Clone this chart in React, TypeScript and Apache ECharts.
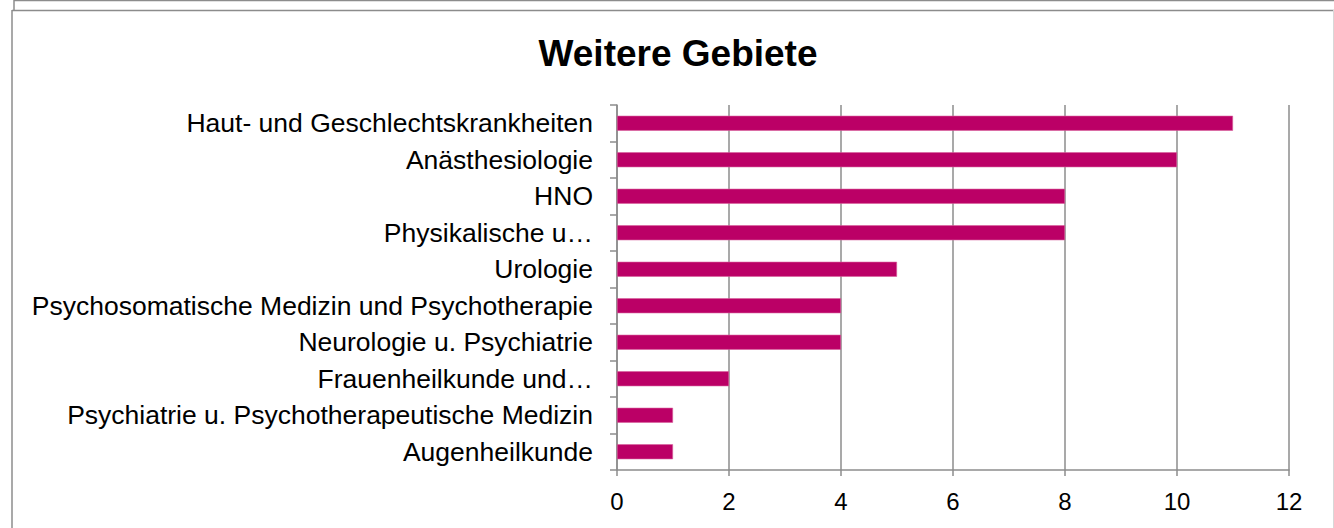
import React, { useEffect, useRef } from "react";
import * as echarts from "echarts";

const categories = [
  "Haut- und Geschlechtskrankheiten",
  "Anästhesiologie",
  "HNO",
  "Physikalische u…",
  "Urologie",
  "Psychosomatische Medizin und Psychotherapie",
  "Neurologie u. Psychiatrie",
  "Frauenheilkunde und…",
  "Psychiatrie u. Psychotherapeutische Medizin",
  "Augenheilkunde",
];
const values = [11, 10, 8, 8, 5, 4, 4, 2, 1, 1];
const titleText = "Weitere Gebiete";
const xMin = 0;
const xMax = 12;
const xInterval = 2;

const FONT = "'Liberation Sans', Arial, sans-serif";
const GRAY = "#8c8c8c";

export default function App() {
  const ref = useRef<HTMLDivElement>(null);
  useEffect(() => {
    document.body.style.margin = "0";
    if (!ref.current) return;
    const chart = echarts.init(ref.current, null, { renderer: "svg" });
    chart.setOption({
      animation: false,
      backgroundColor: "#ffffff",
      title: {
        text: titleText,
        left: 673,
        textAlign: "center",
        top: 30,
        textStyle: { fontFamily: FONT, fontSize: 37, fontWeight: "bold", color: "#000" },
      },
      graphic: [
        { type: "line", shape: { x1: 14, y1: 0.5, x2: 1334, y2: 0.5 }, style: { stroke: GRAY, lineWidth: 1.5 } },
        { type: "line", shape: { x1: 14, y1: 0, x2: 14, y2: 10 }, style: { stroke: GRAY, lineWidth: 1.5 } },
        { type: "line", shape: { x1: 12, y1: 10.5, x2: 1334, y2: 10.5 }, style: { stroke: GRAY, lineWidth: 1.5 } },
        { type: "line", shape: { x1: 12, y1: 10, x2: 12, y2: 528 }, style: { stroke: GRAY, lineWidth: 1.5 } },
        { type: "line", shape: { x1: 1333.5, y1: 10, x2: 1333.5, y2: 528 }, style: { stroke: "#d8d8d8", lineWidth: 1 } },
      ],
      grid: { left: 617, right: 45, top: 105, bottom: 58, containLabel: false },
      xAxis: {
        type: "value",
        min: xMin,
        max: xMax,
        interval: xInterval,
        axisLine: { show: true, lineStyle: { color: GRAY, width: 1.5 } },
        axisTick: { show: true, length: 6, lineStyle: { color: GRAY, width: 1.5 } },
        axisLabel: { margin: 19, color: "#000", fontFamily: FONT, fontSize: 24 },
        splitLine: { show: true, lineStyle: { color: GRAY, width: 1.5 } },
      },
      yAxis: {
        type: "category",
        data: categories,
        inverse: true,
        axisLine: { show: true, lineStyle: { color: GRAY, width: 1.5 } },
        axisTick: { show: true, length: 7, lineStyle: { color: GRAY, width: 1.5 } },
        axisLabel: { margin: 24, color: "#000", fontFamily: FONT, fontSize: 26.5 },
        splitLine: { show: false },
      },
      series: [
        {
          type: "bar",
          data: values,
          barWidth: 15,
          itemStyle: { color: "#bb0066", borderColor: "#d8609c", borderWidth: 0.6 },
        },
      ],
    });
    return () => chart.dispose();
  }, []);
  return <div ref={ref} style={{ width: 1334, height: 528 }} />;
}
